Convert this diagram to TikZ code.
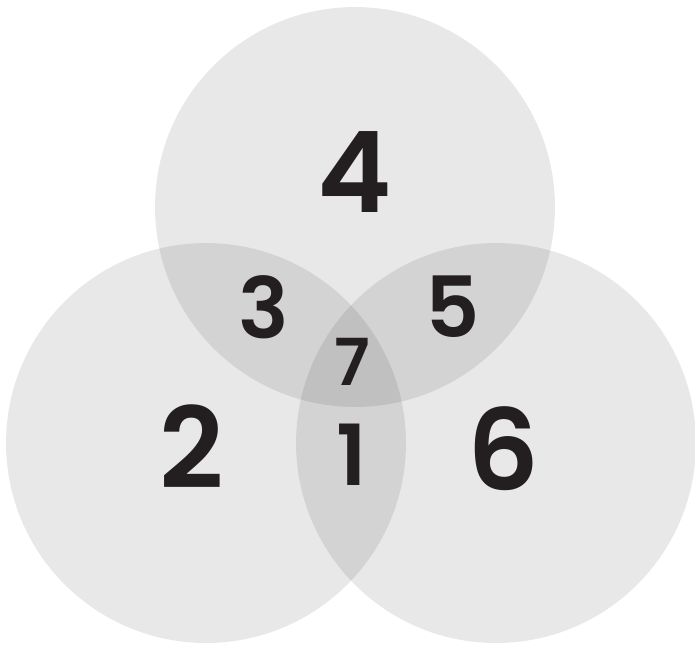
\documentclass[tikz,border=0pt]{standalone}
\usepackage{fontspec}
\newfontfamily\numfont{Poppins}[UprightFont=* SemiBold]
\usetikzlibrary{positioning}
\definecolor{numcol}{HTML}{231F20}

\begin{document}
\begin{tikzpicture}[x=0.02cm, y=-0.02cm,
  setcircle/.style={circle, fill=black, fill opacity=0.09, minimum size=8cm, inner sep=0pt},
  bignum/.style={inner sep=0pt, text=numcol, font=\numfont\fontsize{64}{64}\selectfont},
  midnum/.style={inner sep=0pt, text=numcol, font=\numfont\fontsize{48}{48}\selectfont},
  smallnum/.style={inner sep=0pt, text=numcol, font=\numfont\fontsize{37}{37}\selectfont}
]
  \useasboundingbox (0,0) rectangle (695,647);

  %% the three sets
  \node[setcircle] (top) at (355,207) {};
  \node[setcircle] (left) at (206,443) {};
  \node[setcircle] (right) at (496,443) {};

  %% regions
  \node[bignum] (n4) at (355,172) {4};
  \node[bignum] (n2) at (192,447) {2};
  \node[bignum] (n6) at (503,449) {6};
  \node[midnum] (n3) at (264,307) {3};
  \node[midnum] (n5) at (453,307) {5};
  \node[midnum] (n1) at (352,455) {1};
  \node[smallnum] (n7) at (352,362) {7};

\end{tikzpicture}
\end{document}
